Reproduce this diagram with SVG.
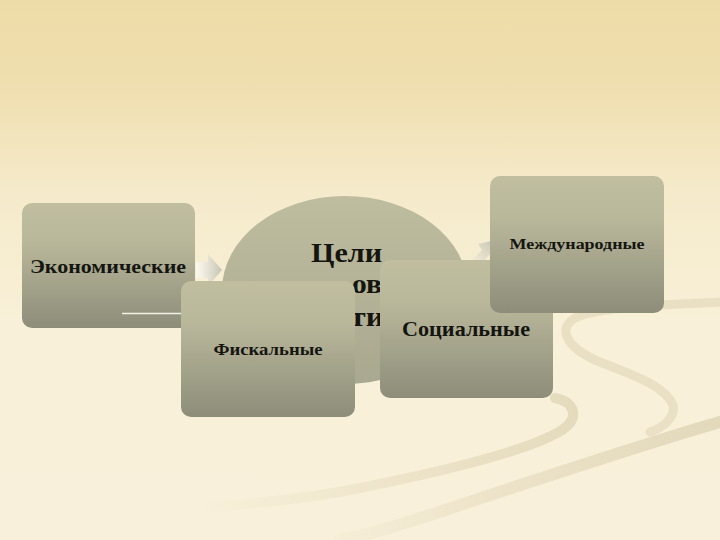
<svg xmlns="http://www.w3.org/2000/svg" width="720" height="540" viewBox="0 0 720 540">
<defs>
<linearGradient id="bg" x1="0" y1="0" x2="0" y2="1">
<stop offset="0" stop-color="#eedca8"/>
<stop offset="0.15" stop-color="#efdeae"/>
<stop offset="0.35" stop-color="#f5eaca"/>
<stop offset="0.6" stop-color="#f8f0d8"/>
<stop offset="1" stop-color="#f8f0da"/>
</linearGradient>
<linearGradient id="box" x1="0" y1="0" x2="0" y2="1">
<stop offset="0" stop-color="#c0be9f"/>
<stop offset="0.3" stop-color="#bab89b"/>
<stop offset="1" stop-color="#8d8d7a"/>
</linearGradient>
<linearGradient id="circ" x1="0" y1="0" x2="0" y2="1">
<stop offset="0" stop-color="#bfbd9f"/>
<stop offset="1" stop-color="#a9a890"/>
</linearGradient>
<linearGradient id="arr" x1="0" y1="0" x2="1" y2="0">
<stop offset="0" stop-color="#ffffff" stop-opacity="0.6"/>
<stop offset="1" stop-color="#b8b8a8" stop-opacity="0.8"/>
</linearGradient>
<linearGradient id="arr2" x1="0" y1="1" x2="1" y2="0">
<stop offset="0" stop-color="#f4eedc" stop-opacity="0.4"/>
<stop offset="1" stop-color="#b9baac" stop-opacity="0.9"/>
</linearGradient>
<linearGradient id="fadeL" x1="200" y1="0" x2="580" y2="0" gradientUnits="userSpaceOnUse">
<stop offset="0" stop-color="#e8dfc3" stop-opacity="0"/>
<stop offset="0.6" stop-color="#e8dfc3" stop-opacity="0.8"/>
<stop offset="1" stop-color="#e4dbbd" stop-opacity="1"/>
</linearGradient>
<linearGradient id="fadeC" x1="300" y1="0" x2="720" y2="0" gradientUnits="userSpaceOnUse">
<stop offset="0" stop-color="#e8dfc3" stop-opacity="0"/>
<stop offset="0.5" stop-color="#e8dfc3" stop-opacity="0.8"/>
<stop offset="1" stop-color="#e2d9bb" stop-opacity="1"/>
</linearGradient>
</defs>
<style>
.box{fill:url(#box);}
.lbl{font-family:"Liberation Serif","DejaVu Serif",serif;font-weight:bold;fill:#151510;text-anchor:middle;}
.ctr{font-family:"Liberation Serif","DejaVu Serif",serif;font-weight:bold;fill:#151510;font-size:28px;}
.sw{fill:none;stroke-linecap:round;}
</style>
<rect x="0" y="0" width="720" height="540" fill="url(#bg)"/>
<g id="swooshes">
<path class="sw" d="M720,302 C680,305 600,305 575,318 C555,330 570,350 600,362 C630,374 665,385 673,405 C676,418 662,428 650,432" stroke="#e6ddc1" stroke-width="9" opacity="0.85"/>
<path class="sw" d="M555,398 C575,402 580,418 562,430 C530,450 450,470 360,488 C300,500 240,505 200,508" stroke="url(#fadeL)" stroke-width="10"/>
<path class="sw" d="M720,422 C640,445 520,485 430,515 C400,525 370,534 340,540" stroke="url(#fadeC)" stroke-width="12"/>
</g>
<g id="connectors">
<polygon points="196,262 208,262 208,254 222,270 208,286 208,278 196,278" fill="url(#arr)"/>
<polygon points="470,262 482,250 478,244 496,240 494,258 490,254 478,268" fill="url(#arr2)"/>
</g>
<g id="center">
<ellipse cx="345" cy="290" rx="123" ry="94" fill="url(#circ)"/>
<text class="ctr" x="311" y="262" textLength="71" lengthAdjust="spacingAndGlyphs">Цели</text>
<text class="ctr" x="352" y="293" textLength="30" lengthAdjust="spacingAndGlyphs">ов</text>
<text class="ctr" x="350" y="326" textLength="34" lengthAdjust="spacingAndGlyphs">ти</text>
</g>
<g id="economic">
<rect class="box" x="22" y="203" width="173" height="125" rx="10"/>
<line x1="122" y1="313.5" x2="182" y2="313.5" stroke="#f4f2e8" stroke-width="1.5"/>
<text class="lbl" x="108" y="273" font-size="18" textLength="156" lengthAdjust="spacingAndGlyphs">Экономические</text>
</g>
<g id="fiscal">
<rect class="box" x="181" y="281" width="174" height="136" rx="10"/>
<text class="lbl" x="268" y="355" font-size="16" textLength="109" lengthAdjust="spacingAndGlyphs">Фискальные</text>
</g>
<g id="social">
<rect class="box" x="380" y="260" width="173" height="138" rx="10"/>
<text class="lbl" x="466" y="336" font-size="21" textLength="128" lengthAdjust="spacingAndGlyphs">Социальные</text>
</g>
<g id="international">
<rect class="box" x="490" y="176" width="174" height="137" rx="10"/>
<text class="lbl" x="577" y="249" font-size="15" textLength="135" lengthAdjust="spacingAndGlyphs">Международные</text>
</g>
</svg>
